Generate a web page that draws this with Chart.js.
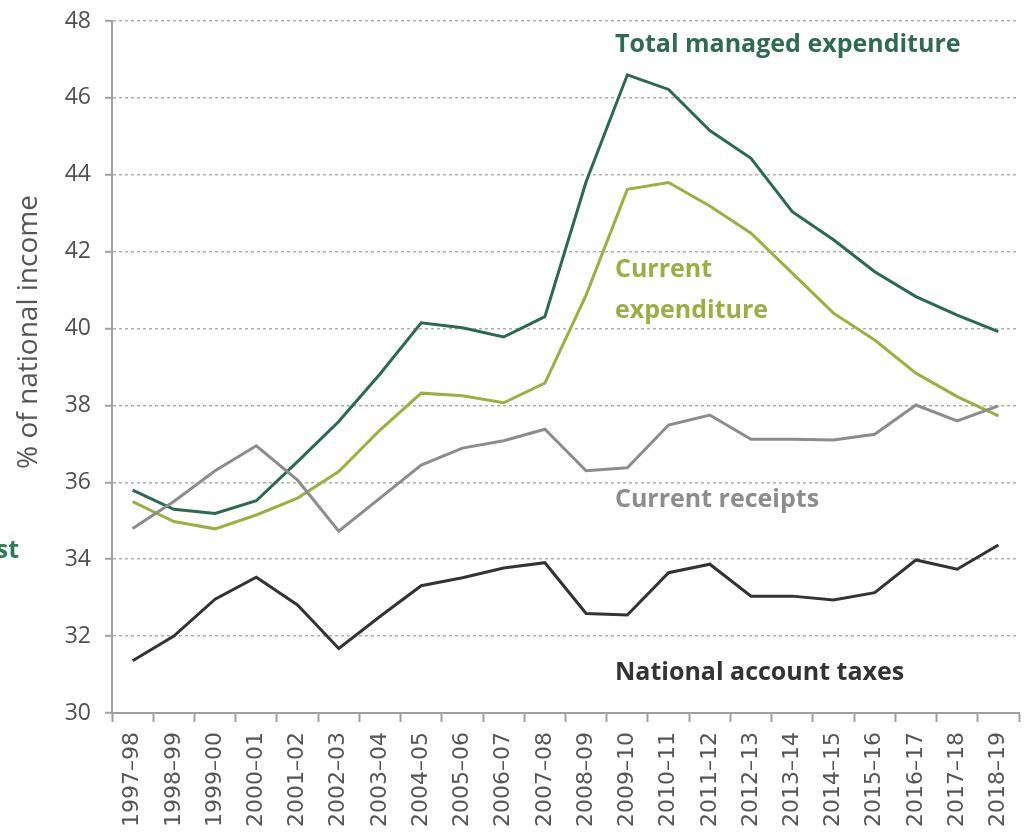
<!DOCTYPE html>
<html>
<head>
<meta charset="utf-8">
<script src="https://cdn.jsdelivr.net/npm/chart.js@4/dist/chart.umd.min.js"></script>
<style>
html,body{margin:0;padding:0;background:#fff;}
#wrap{width:1024px;height:832px;position:relative;}
</style>
</head>
<body>
<div id="wrap"><canvas id="c" width="1024" height="832"></canvas></div>
<script>
const categories = ["1997–98","1998–99","1999–00","2000–01","2001–02","2002–03","2003–04","2004–05","2005–06","2006–07","2007–08","2008–09","2009–10","2010–11","2011–12","2012–13","2013–14","2014–15","2015–16","2016–17","2017–18","2018–19"];
const totalManaged = [35.80,35.30,35.19,35.52,36.54,37.58,38.82,40.15,40.02,39.78,40.31,43.82,46.60,46.22,45.15,44.43,43.04,42.31,41.48,40.83,40.35,39.92];
const currentExp = [35.50,34.98,34.79,35.15,35.59,36.28,37.36,38.32,38.25,38.07,38.58,40.87,43.62,43.80,43.19,42.48,41.44,40.40,39.70,38.84,38.23,37.73];
const currentReceipts = [34.80,35.50,36.30,36.95,36.06,34.73,35.59,36.45,36.89,37.08,37.38,36.30,36.38,37.49,37.75,37.12,37.12,37.10,37.25,38.01,37.60,37.99];
const nationalTaxes = [31.36,32.00,32.96,33.53,32.81,31.68,32.51,33.31,33.52,33.77,33.91,32.59,32.55,33.65,33.87,33.04,33.04,32.94,33.13,33.98,33.74,34.37];
const yTicks = [30,32,34,36,38,40,42,44,46,48];

const FONT = "'Open Sans', 'Noto Sans', sans-serif";

const labelsPlugin = {
  id: 'labels',
  afterDraw(chart) {
    const ctx = chart.ctx;
    ctx.save();
    ctx.textBaseline = 'alphabetic';
    ctx.textAlign = 'left';
    const items = [
      {t:'Total managed expenditure', x:615, y:52, c:'#2e6b50'},
      {t:'Current', x:615, y:277, c:'#9aae42'},
      {t:'expenditure', x:615, y:318, c:'#9aae42'},
      {t:'Current receipts', x:615, y:507, c:'#8c8c8c'},
      {t:'National account taxes', x:615, y:680, c:'#333333'}
    ];
    ctx.font = "bold 25px " + FONT;
    items.forEach(it => { ctx.fillStyle = it.c; ctx.fillText(it.t, it.x, it.y); });
    ctx.textAlign = 'right';
    ctx.fillStyle = '#2e7d50';
    ctx.fillText('st', 19, 558);
    // y-axis title
    ctx.translate(37, 332);
    ctx.rotate(-Math.PI/2);
    ctx.textAlign = 'center';
    ctx.font = "28px " + FONT;
    ctx.fillStyle = '#555555';
    ctx.fillText('% of national income', 0, 0);
    ctx.restore();
  }
};

const mk = (label, data, color) => ({label, data, borderColor: color, backgroundColor: color, borderWidth: 3, pointRadius: 0, tension: 0, fill: false});

new Chart(document.getElementById('c'), {
  type: 'line',
  data: {
    labels: categories,
    datasets: [
      mk('Current receipts', currentReceipts, '#8c8c8c'),
      mk('National account taxes', nationalTaxes, '#333333'),
      mk('Current expenditure', currentExp, '#9cb040'),
      mk('Total managed expenditure', totalManaged, '#2a6a4e')
    ]
  },
  options: {
    responsive: false,
    animation: false,
    devicePixelRatio: 1,
    layout: {padding: {top: 21, right: 5, left: 0, bottom: 0}},
    plugins: {legend: {display: false}, tooltip: {enabled: false}},
    scales: {
      x: {
        offset: true,
        grid: {display: true, offset: true, drawOnChartArea: false, drawTicks: true, tickLength: 9, tickColor: '#a0a0a0', tickWidth: 2},
        border: {display: true, color: '#a0a0a0', width: 2},
        ticks: {color: '#555555', font: {family: "'DejaVu Sans', sans-serif", size: 22}, minRotation: 90, maxRotation: 90, padding: 10, autoSkip: false},
        afterFit(scale) { scale.height = 832 - 713; scale.paddingLeft = 0; scale.paddingRight = 0; }
      },
      y: {
        min: 30, max: 48,
        afterBuildTicks(scale) { scale.ticks = yTicks.map(v => ({value: v})); },
        grid: {color: '#b0b0b0', lineWidth: 1.5, drawTicks: true, tickLength: 7, tickColor: '#a0a0a0', tickWidth: 2},
        border: {display: true, color: '#a0a0a0', width: 2, dash: [3,3]},
        ticks: {color: '#505050', font: {family: FONT, size: 23}, padding: 14},
        afterFit(scale) { scale.width = 112; scale.paddingTop = 0; scale.paddingBottom = 0; }
      }
    }
  },
  plugins: [labelsPlugin]
});
</script>
</body>
</html>
